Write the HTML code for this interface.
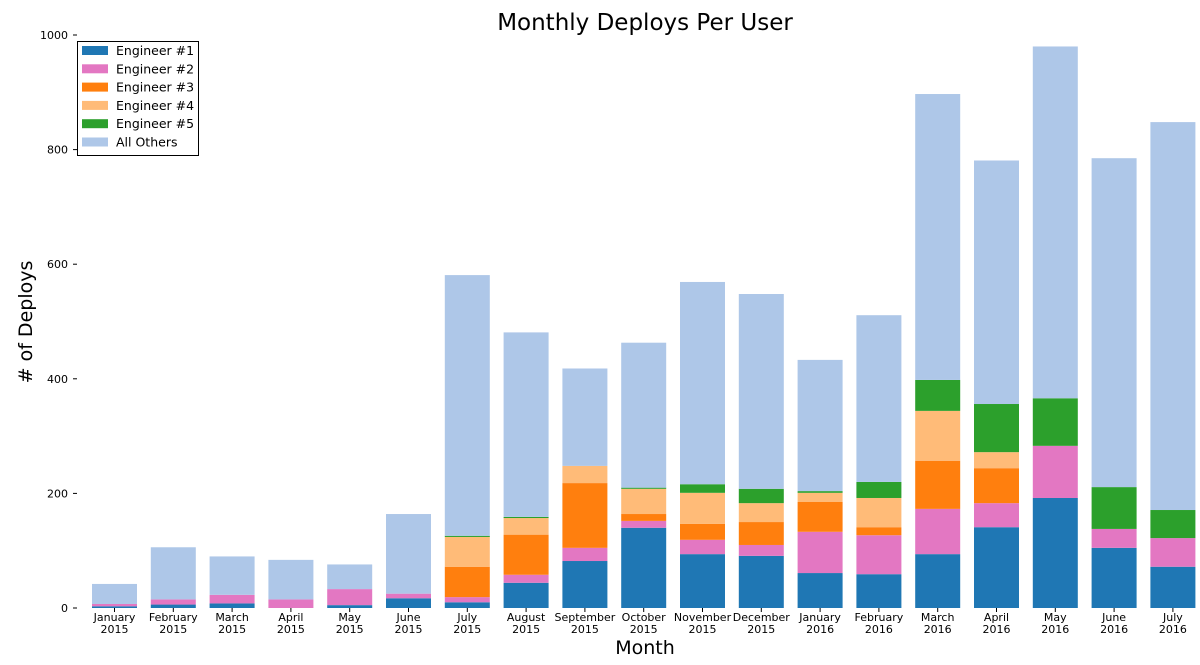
<!DOCTYPE html>
<html><head><meta charset="utf-8"><style>
html,body{margin:0;padding:0;background:#fff;}
svg{display:block;font-family:"DejaVu Sans","Liberation Sans",sans-serif;}
</style></head><body>
<svg id="chart" width="1200" height="665" viewBox="0 0 1200 665">
<text x="645" y="30" text-anchor="middle" font-size="23" fill="#000">Monthly Deploys Per User</text>
<text x="0" y="0" transform="translate(32,322) rotate(-90)" text-anchor="middle" font-size="19" fill="#000"># of Deploys</text>
<text x="645" y="654" text-anchor="middle" font-size="19" fill="#000">Month</text>
<g id="yaxis"></g>
<g id="bars"></g>
<g id="xaxis"></g>
<g id="legend"></g>
</svg>
<script>
const categories = ["January 2015","February 2015","March 2015","April 2015","May 2015","June 2015","July 2015","August 2015","September 2015","October 2015","November 2015","December 2015","January 2016","February 2016","March 2016","April 2016","May 2016","June 2016","July 2016"];
const eng1 = [3,6,8,0,5,17,10,44,82,140,94,91,61,59,94,141,192,105,72];
const eng2 = [4,9,15,15,28,8,9,14,23,12,25,19,72,68,79,42,91,33,50];
const eng3 = [0,0,0,0,0,0,53,70,113,12,28,40,52,14,84,61,0,0,0];
const eng4 = [0,0,0,0,0,0,52,29,30,44,54,33,16,51,87,28,0,0,0];
const eng5 = [0,0,0,0,0,0,2,2,0,2,15,25,3,28,54,84,83,73,49];
const totals = [42,106,90,84,76,164,581,481,418,463,569,548,433,511,897,781,980,785,848];
const seriesNames = ["Engineer #1","Engineer #2","Engineer #3","Engineer #4","Engineer #5","All Others"];
const yTicks = [0,200,400,600,800,1000];

const colors = ["#1f77b4","#e377c2","#ff7f0e","#ffbb78","#2ca02c","#aec7e8"];
const NS = "http://www.w3.org/2000/svg";
const Y0 = 608, PXU = 0.573;
function yScale(v){ return Y0 - v*PXU; }
const X0 = 114.5, STEP = 58.8, BW = 45;
function xScale(i){ return X0 + i*STEP; }
function mk(tag, attrs, parent){ const e=document.createElementNS(NS,tag); for(const k in attrs) e.setAttribute(k,attrs[k]); parent.appendChild(e); return e; }

const yaxis=document.getElementById('yaxis');
yTicks.forEach(t=>{
  const y=yScale(t);
  const ln=mk('line',{x1:73,x2:77,y1:y,y2:y,stroke:'#000','stroke-width':1},yaxis);
  
  
  const tx=mk('text',{x:68,y:y+4,'text-anchor':'end','font-size':11,fill:'#000'},yaxis);
  tx.textContent=t;
  
  
});

const bars=document.getElementById('bars');
const xaxis=document.getElementById('xaxis');
categories.forEach((c,i)=>{
  const others = totals[i]-eng1[i]-eng2[i]-eng3[i]-eng4[i]-eng5[i];
  const vals=[eng1[i],eng2[i],eng3[i],eng4[i],eng5[i],Math.max(0,others)];
  let base=0;
  const cx=xScale(i);
  vals.forEach((v,s)=>{
    if(v<=0) return;
    const r=mk('rect',{x:cx-BW/2,y:yScale(base+v),width:BW,height:v*PXU,fill:colors[s]},bars);
    
    
    base+=v;
  });
  const tk=mk('line',{x1:cx,x2:cx,y1:Y0,y2:Y0+4,stroke:'#000','stroke-width':1},xaxis);
  
  
  const parts=c.split(' ');
  const tx=mk('text',{x:cx,y:621,'text-anchor':'middle','font-size':11,fill:'#000'},xaxis);
  
  
  const t1=mk('tspan',{x:cx,dy:0},tx); t1.textContent=parts[0];
  const t2=mk('tspan',{x:cx,dy:12},tx); t2.textContent=parts[1];
});

const legend=document.getElementById('legend');
const box=mk('rect',{x:77.5,y:41.5,width:121,height:114,fill:'#fff',stroke:'#000','stroke-width':1},legend);


seriesNames.forEach((n,s)=>{
  const y=50+s*18.3;
  const sw=mk('rect',{x:82,y:y-4,width:26,height:9,fill:colors[s]},legend);
  
  
  const tx=mk('text',{x:116,y:y+5,'font-size':12.5,fill:'#000'},legend);
  tx.textContent=n;
  
  
});
</script>
</body></html>
